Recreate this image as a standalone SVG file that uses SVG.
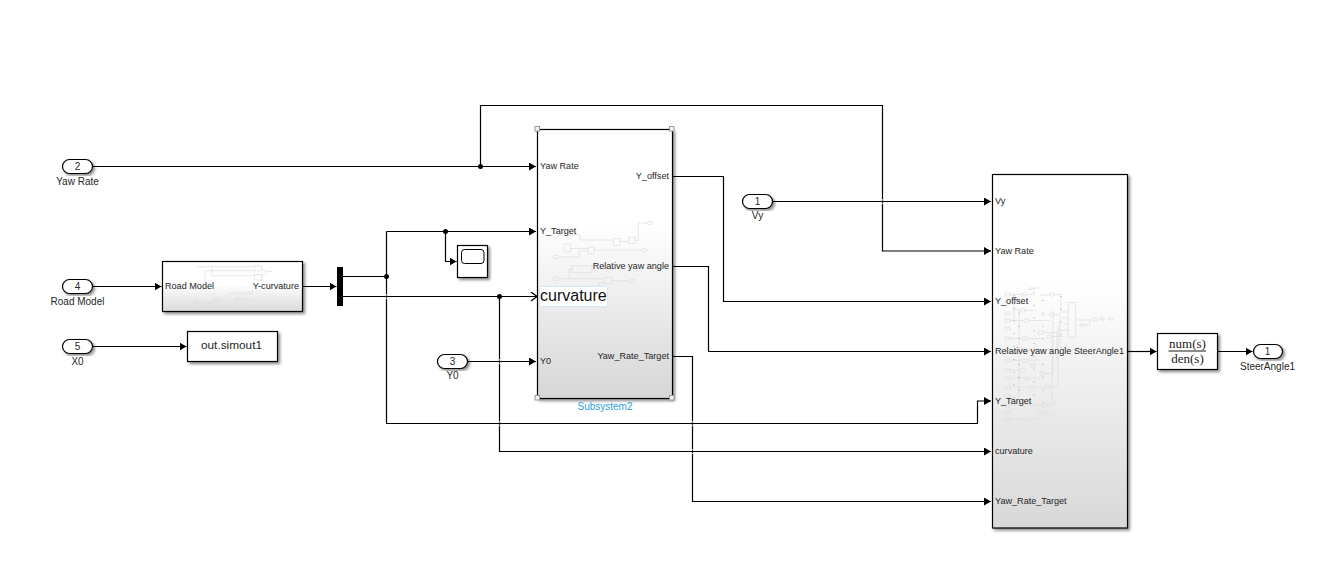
<svg xmlns="http://www.w3.org/2000/svg" width="1342" height="574" viewBox="0 0 1342 574">
<style>
text{font-family:"Liberation Sans",Arial,sans-serif;font-size:9.100px;fill:#262626}
.c{text-anchor:middle}
.l{font-size:10px}
.e{text-anchor:end}
.b{stroke:#000;stroke-width:1.2;filter:url(#sh)}
.w{fill:#fff}
.p{fill:#fff;stroke:#000;stroke-width:1.2;filter:url(#sh)}
.w1{fill:none;stroke:#000;stroke-width:1.2;marker-end:url(#a)}
.w0{fill:none;stroke:#000;stroke-width:1.2}
.dot{fill:#000}
.m{fill:none;stroke:#dcdcdc;stroke-width:.7}
.md{fill:none;stroke:#777;stroke-width:.8;stroke-dasharray:.8 12}
.h{fill:#f4f4f4;stroke:#999;stroke-width:1}
.gap{fill:none;stroke:#fff;stroke-width:1.4;opacity:.65}
</style>
<defs>
<filter id="sh" x="-10%" y="-10%" width="125%" height="125%"><feDropShadow dx="2" dy="2" stdDeviation="1.4" flood-color="#000" flood-opacity=".45"/></filter>
<linearGradient id="g1" x1="0" y1="0" x2="0" y2="1"><stop offset=".35" stop-color="#fff"/><stop offset="1" stop-color="#d6d6d6"/></linearGradient>
<linearGradient id="g2" x1="0" y1="0" x2="0" y2="1"><stop offset=".3" stop-color="#fff"/><stop offset="1" stop-color="#d8d8d8"/></linearGradient>
<linearGradient id="g3" x1="0" y1="0" x2="0" y2="1"><stop offset=".45" stop-color="#fff"/><stop offset="1" stop-color="#dadada"/></linearGradient>
<marker id="a" markerUnits="userSpaceOnUse" markerWidth="8" markerHeight="9" refX="7" refY="4" orient="auto"><path d="M0 0L7 4L0 8z" fill="#000"/></marker>
<marker id="o" markerUnits="userSpaceOnUse" markerWidth="9" markerHeight="11" refX="7" refY="5" orient="auto"><path d="M1 .5L7 5L1 9.500" fill="none" stroke="#000" stroke-width="1.300"/></marker>
</defs>

<g id="port-yaw-rate"><rect class="p" x="62.500" y="159.500" width="30" height="14" rx="7"/><text class="c l" x="77.500" y="170">2</text><text class="c l" x="77.500" y="185">Yaw Rate</text></g>
<g id="port-road-model"><rect class="p" x="62.500" y="279.500" width="30" height="14" rx="7"/><text class="c l" x="77.500" y="290">4</text><text class="c l" x="77.500" y="305">Road Model</text></g>
<g id="port-x0"><rect class="p" x="62.500" y="339.500" width="30" height="14" rx="7"/><text class="c l" x="77.500" y="350">5</text><text class="c l" x="77.500" y="365">X0</text></g>
<g id="port-y0"><rect class="p" x="437.500" y="354.500" width="30" height="14" rx="7"/><text class="c l" x="452.500" y="365">3</text><text class="c l" x="452.500" y="379">Y0</text></g>
<g id="port-vy"><rect class="p" x="742.500" y="194.500" width="30" height="14" rx="7"/><text class="c l" x="757.500" y="205">1</text><text class="c l" x="757.500" y="219">Vy</text></g>
<g id="port-steer"><rect class="p" x="1253.500" y="344.500" width="29" height="14" rx="7"/><text class="c l" x="1267.500" y="355">1</text><text class="c l" x="1267.500" y="370">SteerAngle1</text></g>

<g id="road-model">
<rect class="b" x="162.500" y="261.500" width="140" height="50" fill="url(#g3)"/>
<path class="m" d="M197 266.700H254.500M205 270.700H254.500M205 270.700V285M212 266.700V275.700H254.700M261.500 269L267 271.500H272M261.500 277L267 272M196 302.700H213M213.500 298.300h6v3h-6zM222 299L227 300.700M235 298h8v6.500h-8zM229 293.300H249.300M246 294.300V300H253M249.300 291h3v3h-3zM241 300H235"/>
<rect x="194.500" y="301" width="3" height="3" class="m"/><rect x="254.700" y="266" width="6.700" height="5" class="m"/><rect x="254.700" y="274.300" width="6.700" height="5.700" class="m"/>
<text x="165" y="289">Road Model</text><text class="e" x="299" y="289">Y-curvature</text>
</g>
<g id="mux"><rect x="337" y="267" width="6" height="39" fill="#000"/></g>
<g id="out-simout1"><rect class="b w" x="187.500" y="331.500" width="90" height="30"/><text class="c" x="231.500" y="349" style="font-size:11.800px">out.simout1</text></g>
<g id="scope"><rect class="b w" x="457.500" y="245.500" width="30" height="32"/><rect x="461.500" y="249.500" width="22.500" height="14" rx="3" fill="#fff" stroke="#000" stroke-width="1"/></g>

<g id="subsystem2">
<rect class="b" x="537.500" y="129.500" width="135" height="269" fill="url(#g1)"/>
<path class="m" d="M559.300 235H580V240H613.500M570.800 248.500H588M620 241.500H628.700M635.200 240.500H638.300V223H646.700M594 250H641M559.300 257H579.300V250.700H588M559.300 278.700H604.700M569.300 278.700V269H571.700M611.700 280.700H629.300M599.300 286V282.700H604.700M564.300 244.300h6.500v7.500h-6.500zM588 247h6v6.700h-6zM613.500 238.500h6.500v7h-6.500zM628.700 237.300h6.500v6.500h-6.500zM571.700 265.700h20v7h-20zM604.700 277.300h7v6.500h-7z"/>
<rect class="m" x="646.700" y="221.500" width="6" height="3" rx="1.500"/><rect class="m" x="641" y="248.700" width="6" height="3" rx="1.500"/><rect class="m" x="553.300" y="255.300" width="6" height="3" rx="1.500"/><rect class="m" x="553.300" y="277.300" width="6" height="3" rx="1.500"/><rect class="m" x="629.300" y="279.500" width="6" height="3" rx="1.500"/><rect class="m" x="553.300" y="233.500" width="6" height="3" rx="1.500"/>
<rect class="h" x="535" y="126.500" width="4.500" height="4.500"/><rect class="h" x="669.500" y="126.500" width="4.500" height="4.500"/><rect class="h" x="535" y="395.500" width="4.500" height="4.500"/><rect class="h" x="669.500" y="395.500" width="4.500" height="4.500"/>
<text x="540" y="169">Yaw Rate</text><text x="540" y="234">Y_Target</text><text x="540" y="364">Y0</text>
<text class="e" x="669" y="179">Y_offset</text><text class="e" x="669" y="269">Relative yaw angle</text><text class="e" x="669" y="359">Yaw_Rate_Target</text>
<rect x="539.500" y="286.500" width="68" height="20" rx="1" fill="#fff" stroke="#d5e8f5" stroke-width="1"/>
<text x="540" y="301" style="font-size:16px;fill:#111">curvature</text>
<text class="c l" x="605" y="410" style="fill:#2a9fd6">Subsystem2</text>
</g>

<g id="steering-subsystem">
<rect class="b" x="992.500" y="174.500" width="135" height="353.500" fill="url(#g2)"/>
<path class="m" d="M1029 288h5v1.500h-5zM1034 288H1040M1005 293h5v3h-5zM1022 293h4v3h-4zM1010 294.500H1022M1026 294.500H1035M1040 295H1050M1050 293h4v3h-4zM1054 294.500H1061V310M1005 301h5v3h-5zM1020 309h5v3h-5zM1010 302.500H1014V320M1025 310.500H1034M1005 312h5v3h-5zM1014 310H1019V400M1005 319h5v3h-5zM1010 320.500H1024M1024 319h5v3h-5zM1029 320.500H1050M1040 315h6M1050 313h4v3h-4zM1054 314.500H1060V345M1005 327h5v3h-5zM1005 337h5v3h-5zM1010 338.500H1022M1022 337h5v3h-5zM1027 338.500H1043M1038 331h5v3h-5zM1043 332.500H1057V361M1005 349h5v3h-5zM1010 350H1030M1030 348h5v3h-5zM1035 349.500H1047M1047 335h4v3h-4zM1051 336.500H1064M1005 359h5v3h-5zM1010 360.500H1022M1022 359h5v3h-5zM1027 360H1040M1005 369h5v3h-5zM1010 370H1020M1020 369h5v3h-5zM1030 364h5v3h-5zM1005 377h5v3h-5zM1010 378H1025M1025 377h4v3h-4zM1029 378H1040M1040 372h5v3h-5zM1045 373.500H1053V310M1005 386h5v3h-5zM1010 387H1030M1030 386h5v3h-5zM1035 387H1045M1045 385h5v3h-5zM1050 386.500H1058V325M1005 394h5v3h-5zM1005 404h5v3h-5zM1010 405H1030M1030 403h5v3h-5zM1035 405H1042M1042 404h5v3h-5zM1047 405H1052V340M1005 411h5v3h-5zM1005 418h5v3h-5zM1010 419H1025M1025 418h5v3h-5zM1030 419H1038V405M1040 412h5v3h-5zM1045 413H1053M1055 405V400M1068.300 302.500h7.300v35h-7.300zM1075.600 320H1088H1092M1093 318h4v3h-4zM1100 318h4v2h-4zM1109 318h4v2h-4zM1080 324h5v2h-5zM1085 325H1090V320M1060 312H1068.300M1062 318H1068.300M1064 324H1068.300M1058 330H1068.300"/>
<path class="md" d="M1014 295V405M1019 300V400M1034 292V400M1043 300V410M1061 296V350"/>
<text x="995" y="204">Vy</text><text x="995" y="254">Yaw Rate</text><text x="995" y="304">Y_offset</text><text x="995" y="354">Relative yaw angle</text><text x="995" y="404">Y_Target</text><text x="995" y="454">curvature</text><text x="995" y="504">Yaw_Rate_Target</text>
<text class="e" x="1124" y="354">SteerAngle1</text>
</g>

<g id="transfer-fcn">
<rect class="b w" x="1157.500" y="333.500" width="60" height="36"/>
<text class="c" x="1187.500" y="348" style="font-family:'Liberation Serif',serif;font-size:13px;fill:#222">num(s)</text>
<path d="M1168.500 351H1206" stroke="#666" stroke-width="1.500"/>
<text class="c" x="1187.500" y="363" style="font-family:'Liberation Serif',serif;font-size:13px;fill:#222">den(s)</text>
</g>

<g id="connectors">
<path class="w1" d="M93 166.500H536"/>
<path class="w1" d="M480.500 166.500V105.500H882.500V251H991"/>
<path class="w1" d="M93 286.500H161.500"/>
<path class="w1" d="M302.500 286.500H336.500"/>
<path class="w0" d="M343 276.500H386.500"/>
<path class="w1" d="M386.500 231.500H536"/>
<path class="w1" d="M386.500 231.500V423.500H977.500V401H991"/>
<path class="w1" d="M445.500 231.500V261.500H456.500"/>
<path class="w0" d="M343 296.500H537" marker-end="url(#o)"/>
<path class="w1" d="M499.500 296.500V451.500H991"/>
<path class="w1" d="M93 346.500H186.500"/>
<path class="w1" d="M467.500 361.500H536"/>
<path class="w1" d="M772.500 201.500H991"/>
<path class="w1" d="M672.500 176.500H723.500V301.500H991"/>
<path class="w1" d="M672.500 266.500H708.500V351.500H991"/>
<path class="w1" d="M672.500 356.500H692.500V501.500H991"/>
<path class="w1" d="M1127.500 351.500H1156.500"/>
<path class="w1" d="M1217.500 351.500H1252.500"/>
<path class="gap" d="M692.500 421v1.500M692.500 424.700v1.500M692.500 449v1.500M692.500 452.700v1.500M882.500 199v1.500M882.500 202.700v1.500M386.500 294v1.500M386.500 297.700v1.500M499.500 359v1.500M499.500 362.700v1.500M499.500 421v1.500M499.500 424.700v1.500"/>
<circle class="dot" cx="480.500" cy="166.500" r="2.500"/>
<circle class="dot" cx="386.500" cy="276.500" r="2.500"/>
<circle class="dot" cx="445.500" cy="231.500" r="2.500"/>
<circle class="dot" cx="499.500" cy="296.500" r="2.500"/>
</g>
</svg>
